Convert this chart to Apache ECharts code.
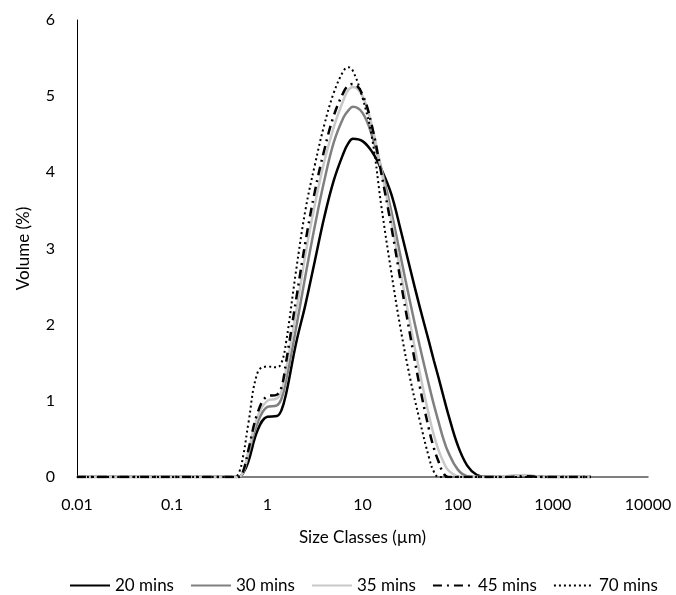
<!DOCTYPE html>
<html>
<head>
<meta charset="utf-8">
<script src="https://cdn.jsdelivr.net/npm/echarts@6/dist/echarts.min.js"></script>
<style>
html,body{margin:0;padding:0;background:#fff;}
#c{width:676px;height:595px;}
</style>
</head>
<body>
<div id="c"></div>
<script>
// Size classes (µm)
var sizes = [0.01, 0.0316, 0.1, 0.316, 0.447, 0.501, 0.562, 0.631, 0.794, 1.0, 1.26, 1.41, 1.58, 2.0, 2.51, 3.16, 3.98, 5.01, 6.31, 7.08, 7.94, 10.0, 12.6, 15.8, 20.0, 25.1, 31.6, 39.8, 50.1, 56.2, 63.1, 70.8, 79.4, 100, 126, 158, 200, 316, 501, 794, 2512];
var seriesNames = ['20 mins', '30 mins', '35 mins', '45 mins', '70 mins'];
var v20 = [0, 0, 0, 0, 0, 0, 0.06, 0.2, 0.62, 0.79, 0.8, 0.88, 1.1, 1.75, 2.26, 2.84, 3.42, 3.9, 4.25, 4.38, 4.44, 4.41, 4.27, 4.04, 3.72, 3.25, 2.74, 2.24, 1.77, 1.53, 1.3, 1.06, 0.83, 0.42, 0.15, 0.03, 0, 0, 0.01, 0, 0];
var v30 = [0, 0, 0, 0, 0, 0, 0.07, 0.3, 0.72, 0.92, 0.94, 1.03, 1.28, 1.95, 2.64, 3.3, 3.9, 4.4, 4.72, 4.81, 4.86, 4.78, 4.48, 4.05, 3.5, 2.9, 2.3, 1.73, 1.2, 0.95, 0.72, 0.5, 0.33, 0.1, 0.01, 0, 0, 0.01, 0.02, 0, 0];
var v35 = [0, 0, 0, 0, 0, 0, 0.08, 0.33, 0.8, 1.0, 1.03, 1.13, 1.42, 2.15, 2.92, 3.58, 4.15, 4.6, 4.95, 5.08, 5.12, 5.0, 4.6, 4.02, 3.38, 2.7, 2.02, 1.38, 0.8, 0.55, 0.35, 0.2, 0.09, 0.01, 0, 0, 0, 0.01, 0.025, 0, 0];
var v45 = [0, 0, 0, 0, 0, 0, 0.09, 0.35, 0.85, 1.06, 1.08, 1.18, 1.52, 2.32, 3.08, 3.75, 4.3, 4.75, 5.05, 5.14, 5.16, 5.02, 4.6, 3.98, 3.3, 2.58, 1.87, 1.2, 0.62, 0.38, 0.2, 0.05, 0, 0, 0, 0, 0, 0, 0.01, 0, 0];
var v70 = [0, 0, 0, 0, 0, 0.05, 0.3, 0.7, 1.38, 1.45, 1.44, 1.5, 1.78, 2.7, 3.5, 4.1, 4.63, 5.05, 5.33, 5.38, 5.33, 4.98, 4.45, 3.55, 2.7, 1.95, 1.3, 0.75, 0.25, 0.07, 0, 0, 0, 0, 0, 0, 0, 0, 0, 0, 0];
var xTickLabels = ['0.01', '0.1', '1', '10', '100', '1000', '10000'];
var yTickLabels = ['0', '1', '2', '3', '4', '5', '6'];

var allValues = [v20, v30, v35, v45, v70];
var styles = [
  {color: '#000000', width: 2.5, type: 'solid'},
  {color: '#808080', width: 2.5, type: 'solid'},
  {color: '#c8c8c8', width: 2.5, type: 'solid'},
  {color: '#000000', width: 2.5, type: [9, 5, 2, 5]},
  {color: '#000000', width: 2, type: [2, 3]}
];

function pairs(vals){ return sizes.map(function(s,i){ return [s, vals[i]]; }); }

var series = seriesNames.map(function(n, k){
  return {
    name: n, type: 'line', data: pairs(allValues[k]),
    showSymbol: false, symbol: 'none',
    smooth: 0.4,
    lineStyle: {color: styles[k].color, width: styles[k].width, type: styles[k].type},
    itemStyle: {color: styles[k].color}
  };
});

var font = 'Lato, "Open Sans", sans-serif';
var chart = echarts.init(document.getElementById('c'), null, {renderer: 'canvas'});
chart.setOption({
  animation: false,
  backgroundColor: '#ffffff',
  grid: {left: 77, right: 28, top: 20, bottom: 118, containLabel: false},
  xAxis: {
    type: 'log', logBase: 10, min: 0.01, max: 10000,
    name: 'Size Classes (µm)', nameLocation: 'middle', nameGap: 52,
    nameTextStyle: {fontFamily: font, fontSize: 17, color: '#000'},
    axisLine: {show: true, lineStyle: {color: '#555', width: 1.5}},
    axisTick: {show: false},
    splitLine: {show: false},
    axisLabel: {
      fontFamily: font, fontSize: 16, color: '#000', margin: 20,
      formatter: function(v){
        var e = Math.round(Math.log10(v)) + 2;
        return xTickLabels[e] !== undefined ? xTickLabels[e] : '';
      }
    }
  },
  yAxis: {
    type: 'value', min: 0, max: 6, interval: 1,
    name: 'Volume (%)', nameLocation: 'middle', nameGap: 45,
    nameTextStyle: {fontFamily: font, fontSize: 17, color: '#000'},
    axisLine: {show: true, lineStyle: {color: '#000', width: 1}},
    axisTick: {show: false},
    splitLine: {show: false},
    axisLabel: {
      fontFamily: font, fontSize: 16, color: '#000', margin: 22,
      formatter: function(v){ return yTickLabels[Math.round(v)]; }
    }
  },
  legend: {
    top: 572, left: 64,
    itemWidth: 40, itemHeight: 4, itemGap: 16,
    itemStyle: {opacity: 0},
    textStyle: {fontFamily: font, fontSize: 17, color: '#000'},
    data: seriesNames
  },
  series: series
});
</script>
</body>
</html>
